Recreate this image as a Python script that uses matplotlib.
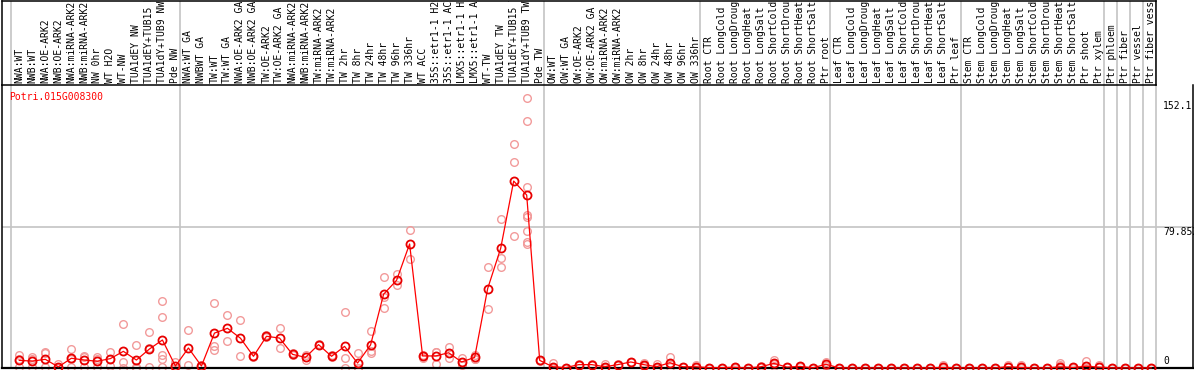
import matplotlib
matplotlib.use('Agg')
import matplotlib.pyplot as plt
from matplotlib import transforms

gene = 'Potri.015G008300'

labels = [
    'NWA:WT', 'NWB:WT', 'NWA:OE-ARK2', 'NWB:OE-ARK2', 'NWA:miRNA-ARK2', 'NWB:miRNA-ARK2',
    'NW 0hr', 'WT H2O', 'WT-NW', 'TUA1dEY NW', 'TUA1dEY+TUB15 NW', 'TUA1dY+TUB9 NW', 'Pde NW',
    'NWA:WT GA', 'NWBWT GA', 'TW:WT', 'TW:WT GA', 'NWA:OE-ARK2 GA', 'NWB:OE-ARK2 GA',
    'TW:OE-ARK2', 'TW:OE-ARK2 GA', 'NWA:miRNA-ARK2', 'NWB:miRNA-ARK2', 'TW:miRNA-ARK2',
    'TW:miRNA-ARK2', 'TW 2hr', 'TW 8hr', 'TW 24hr', 'TW 48hr', 'TW 96hr', 'TW 336hr', 'WT ACC',
    '35S::etr1-1 H2O', '35S::etr1-1 ACC', 'LMX5::etr1-1 H2O', 'LMX5::etr1-1 ACC', 'WT-TW',
    'TUA1dEY TW', 'TUA1dEY+TUB15 TW', 'TUA1dY+TUB9 TW', 'Pde TW',
    'OW:WT', 'OW:WT GA', 'OW:OE-ARK2', 'OW:OE-ARK2 GA', 'OW:miRNA-ARK2', 'OW:miRNA-ARK2',
    'OW 2hr', 'OW 8hr', 'OW 24hr', 'OW 48hr', 'OW 96hr', 'OW 336hr',
    'Root CTR', 'Root LongCold', 'Root LongDrought', 'Root LongHeat', 'Root LongSalt',
    'Root ShortCold', 'Root ShortDrought', 'Root ShortHeat', 'Root ShortSalt', 'Ptr root',
    'Leaf CTR', 'Leaf LongCold', 'Leaf LongDrought', 'Leaf LongHeat', 'Leaf LongSalt',
    'Leaf ShortCold', 'Leaf ShortDrought', 'Leaf ShortHeat', 'Leaf ShortSalt', 'Ptr leaf',
    'Stem CTR', 'Stem LongCold', 'Stem LongDrought', 'Stem LongHeat', 'Stem LongSalt',
    'Stem ShortCold', 'Stem ShortDrought', 'Stem ShortHeat', 'Stem ShortSalt',
    'Ptr shoot', 'Ptr xylem', 'Ptr phloem', 'Ptr fiber', 'Ptr vessel', 'Ptr fiber vessel',
]

# mean per sample
means = [
    4.3, 3.9, 4.9, 0.6, 5.5, 4.5, 3.8, 5.3, 9.4, 4.5, 10.7, 15.8, 1.1,
    11.3, 1.1, 19.7, 22.4, 16.8, 6.6, 17.9, 16.9, 7.7, 6.0, 13.2, 6.6, 12.2, 2.8, 13.0,
    41.6, 49.5, 70.0, 6.8, 6.8, 8.6, 3.4, 6.0, 44.8, 67.5, 105.5, 97.6, 4.3,
    0.7, 0.2, 1.9, 1.9, 0.7, 1.9, 3.4, 1.9, 0.7, 3.0, 0.7, 0.7,
    0.2, 0.2, 0.4, 0.0, 0.7, 2.6, 0.5, 0.9, 0.1, 2.1,
    0.1, 0.1, 0.1, 0.1, 0.1, 0.1, 0.1, 0.1, 0.3, 0.1,
    0.1, 0.1, 0.1, 0.7, 0.3, 0.1, 0.1, 0.6, 0.3, 1.0, 0.5,
    0.1, 0.1, 0.1, 0.1,
]

# individual replicates per sample
reps = [
    [7.3, 4.9, 0.7], [6.0, 5.0, 0.7], [9.2, 8.3, 0.7], [2.4, 0.2], [10.7, 5.1, 0.7],
    [6.0, 6.8, 0.7], [6.0, 5.3, 0.7], [9.2, 5.3, 1.4], [24.8, 3.6, 0.0], [13.0, 0.7, 0.0],
    [20.3, 11.1, 0.7], [37.6, 28.8, 7.3, 4.9, 0.7], [3.4, 0.2],
    [21.3, 1.7], [1.5, 0.7], [36.7, 12.4, 10.2], [29.9, 15.2], [26.9, 6.6], [7.0, 6.2],
    [18.5, 17.3], [22.4, 11.3], [8.3, 7.2], [7.3, 4.5], [13.6, 12.8], [7.2, 6.0],
    [31.4, 5.5, 0.2], [8.6, 0.2, 0.0], [21.0, 9.8, 8.3], [51.2, 39.9, 33.9], [52.9, 46.7],
    [77.7, 61.3], [7.6, 6.8, 5.9], [9.2, 8.8, 2.4], [12.0, 8.3, 5.5], [5.5, 3.2, 1.5],
    [7.5, 5.3, 5.2], [56.8, 33.1], [83.9, 61.9, 56.8], [126.4, 116.3, 74.3],
    [152.1, 139.2, 102.0, 86.3, 85.0, 77.3, 71.1, 70.0], [4.5, 3.7],
    [2.6, 0.1, 0.0], [0.2, 0.1], [2.0, 1.8], [2.0, 1.8], [2.3, 0.1], [2.0, 1.8], [3.6, 3.2],
    [3.0, 1.8, 0.9], [2.3, 0.0], [6.4, 2.0, 0.6], [0.8, 0.6], [1.9, 0.1],
    [0.2, 0.1], [0.2, 0.1], [0.4, 0.2], [0.0, 0.0], [1.0, 0.5], [4.5, 2.4, 0.9], [0.6, 0.4],
    [1.2, 0.6], [0.1, 0.1], [3.6, 1.9, 0.9],
    [0.1, 0.1], [0.1, 0.1], [0.1, 0.1], [0.1, 0.1], [0.1, 0.1], [0.1, 0.1], [0.1, 0.1],
    [0.1, 0.1], [1.7, 0.1], [0.1, 0.1],
    [0.1, 0.1], [0.1, 0.1], [0.1, 0.1], [1.7, 0.4], [1.5, 0.1], [0.1, 0.1], [0.1, 0.1],
    [2.6, 1.7, 0.3, 0.0], [0.3, 0.2], [3.9, 1.0, 0.2], [1.7, 0.3],
    [0.1, 0.1], [0.1, 0.1], [0.1, 0.1], [0.1, 0.1],
]

# first sample index of each group (last one closes the chart)
group_starts = [0, 13, 41, 53, 63, 73, 84, 85, 86, 87, 88]

max_val = 152.1
ymax = max_val * 1.05

W, H = 1194, 370
fig = plt.figure(figsize=(W / 100, H / 100), dpi=100)
mono = 'DejaVu Sans Mono'


def rect(x0, y0, x1, y1):
    return [x0 / W, 1 - y1 / H, (x1 - x0) / W, (y1 - y0) / H]


# pixel -> sample index mapping
x_first, step = 19.3, 13.01


def idx(px):
    return (px - x_first) / step


ax = fig.add_axes(rect(2, 85, 1193, 368))
lab = fig.add_axes(rect(2, 0.6, 1156, 85))

ax.set_xlim(idx(2), idx(1193))
ax.set_ylim(0, ymax)
lab.set_xlim(idx(2), idx(1156))
lab.set_ylim(0, 1)

for a in (ax, lab):
    a.set_xticks([])
    a.set_yticks([])
    for s in a.spines.values():
        s.set_color('black')
        s.set_linewidth(1.1)
ax.spines['top'].set_visible(False)
ax.spines['bottom'].set_linewidth(1.6)

# separators
for b in group_starts:
    ax.axvline(b - 0.65, color='#c4c4c4', lw=1.2, zorder=1)
    lab.axvline(b - 0.65, color='#c4c4c4', lw=1.2, zorder=1)
ax.axhline(ymax / 2, color='#c4c4c4', lw=1.2, zorder=1)

# sample labels
for i, name in enumerate(labels):
    lab.text(i, 0.025, name, rotation=90, ha='center', va='bottom',
             fontsize=7, family=mono, clip_on=True)

# replicates, line, means
xs = list(range(len(means)))
for i, r in enumerate(reps):
    ax.plot([i] * len(r), r, 'o', ms=5.5, mfc='none', mec='#f29a9a', mew=1.0,
            zorder=2, clip_on=False)
ax.plot(xs, means, '-', color='#ff0000', lw=0.9, zorder=3, clip_on=False)
ax.plot(xs, means, 'o', ms=5.8, mfc='none', mec='#e80000', mew=1.3, zorder=4,
        clip_on=False)

ax.text(0.006, 0.958, gene, transform=ax.transAxes, color='red', fontsize=7,
        family=mono, ha='left', va='center')

# right-hand scale labels
ty = ax.get_yaxis_transform()
xr = (1163 - 2) / 1191
ax.text(xr, max_val, f'{max_val:g}', fontsize=7, family=mono, ha='left', va='top',
        transform=transforms.offset_copy(ty, fig=fig, y=-3, units='dots'))
ax.text(xr, ymax / 2, f'{ymax / 2:g}', fontsize=7, family=mono, ha='left', va='top',
        transform=ty)
ax.text(xr, 0, '0', fontsize=7, family=mono, ha='left', va='bottom',
        transform=transforms.offset_copy(ty, fig=fig, y=2, units='dots'))

fig.savefig('out.png', dpi=100)
